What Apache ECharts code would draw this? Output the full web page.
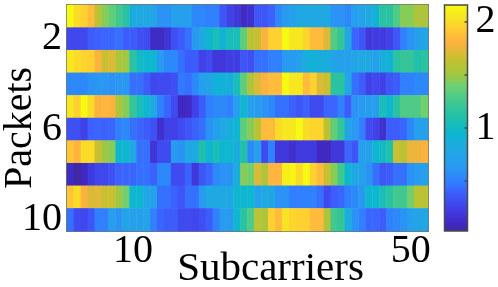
<!DOCTYPE html>
<html><head><meta charset="utf-8">
<style>html,body{margin:0;padding:0;background:#fff}#c{width:498px;height:287px}</style>
<script src="https://cdn.jsdelivr.net/npm/echarts@6/dist/echarts.min.js"></script>
</head><body><div id="c"></div>
<script>
const subcarriers = Array.from({length:52},(_,i)=>String(i+1));
const packets = Array.from({length:10},(_,i)=>String(i+1));
const xTickLabels = ['10','50'];
const yTickLabels = ['2','6','10'];
const colorTicks = [0.5,1,1.5,2];
const colorLabels = [1,2];
const vMin = 0.03, vMax = 2.16;
const row1=[2.15,2.0,1.95,1.85,1.6,1.45,1.35,1.25,1.15,.85,.8,.8,.75,.6,.6,.7,.7,.7,.55,.55,.5,.5,.35,.25,.2,.12,.15,.35,.35,.4,.55,.65,.7,.8,.8,.8,.8,.8,.6,.6,.55,.7,.75,.8,.9,1.15,1.15,1.3,1.45,1.45,1.55,1.55];
const row2=[.28,.28,.28,.38,.4,.42,.42,.45,.38,.38,.33,.3,.12,.12,.18,.32,.38,.45,.65,.8,.95,1.05,.9,1.05,1.05,1.35,1.6,1.65,1.8,1.95,1.95,2.15,2.05,2.05,1.97,1.85,1.85,1.7,1.3,1.2,.8,.42,.35,.2,.22,.22,.25,.35,.5,.6,.7,.75];
const row3=[2.05,2.0,1.97,1.95,1.8,1.65,1.7,1.55,1.5,1.15,1.0,.95,.95,.65,.55,.55,.45,.38,.38,.25,.3,.2,.2,.23,.23,.35,.32,.45,.45,.5,.5,.65,.65,.7,.85,.9,.85,.85,.75,.7,.7,.75,.8,.8,.7,.85,.9,1.15,1.2,1.2,1.1,1.15];
const row4=[.55,.55,.55,.6,.62,.62,.6,.62,.62,.45,.45,.38,.28,.3,.3,.32,.48,.45,.55,.7,.75,.9,.9,.85,1.05,1.35,1.55,1.7,1.8,1.85,1.85,2.15,2.05,2.05,1.85,1.95,1.7,1.65,1.15,1.15,.8,.45,.38,.25,.28,.25,.35,.38,.5,.5,.55,.55];
const row5=[2.05,1.95,2.15,2.0,1.8,1.82,1.8,1.55,1.45,1.2,1.05,.95,.8,.5,.42,.3,.1,.12,.25,.38,.5,.55,.55,.5,.7,.95,.7,.65,.6,.55,.45,.45,.4,.35,.4,.3,.3,.42,.42,.5,.38,.6,.65,.68,.68,1.05,.95,1.15,1.3,1.3,1.3,1.4];
const row6=[.32,.32,.25,.4,.42,.4,.42,.5,.55,.45,.42,.38,.33,.15,.25,.25,.3,.35,.4,.45,.6,.7,.8,.85,.95,1.35,1.45,1.6,1.85,1.85,2.0,2.05,2.05,2.15,2.0,1.97,1.97,1.6,1.35,1.2,.75,.65,.5,.3,.25,.15,.38,.38,.42,.55,.7,.7];
const row7=[1.9,1.82,2.0,2.0,1.65,1.5,1.45,.95,.95,.8,.45,.45,.18,.3,.3,.65,.6,.8,.8,1.1,.95,1.05,.95,.95,.85,1.1,.55,.7,.3,.5,.2,.2,.15,.22,.22,.22,.1,.1,.2,.2,.42,.35,.7,.7,.95,1.0,1.1,1.65,1.6,1.75,1.75,1.8];
const row8=[.12,.05,.1,.22,.28,.28,.33,.4,.42,.42,.45,.45,.4,.55,.55,.3,.3,.4,.2,.35,.42,.55,.6,.6,.85,1.45,1.4,1.7,1.55,1.82,1.82,2.1,2.12,2.0,2.15,1.95,1.85,1.65,1.45,1.25,.95,.8,.72,.6,.45,.35,.38,.45,.45,.6,.65,.7];
const row9=[1.9,2.0,1.8,1.7,1.72,1.65,1.65,1.5,1.4,.95,.95,.75,.72,.45,.45,.4,.35,.45,.45,.65,.8,.8,.8,.78,.95,.95,.95,.72,.8,.78,.6,.6,.5,.5,.5,.5,.45,.3,.38,.42,.5,.55,.65,.95,.95,1.05,1.15,1.25,1.25,1.4,1.6,1.6];
const row10=[.45,.3,.28,.35,.5,.5,.7,.6,.75,.72,.72,.75,.5,.42,.38,.38,.3,.3,.28,.32,.38,.5,.65,.65,.95,1.15,1.3,1.6,1.55,1.95,1.85,2.03,1.97,1.95,1.95,1.85,1.85,1.55,1.25,1.2,.85,.6,.5,.42,.42,.38,.5,.55,.6,.72,.75,.78];
const rows=[row1,row2,row3,row4,row5,row6,row7,row8,row9,row10];
const stopValues=[.03,.1,.25,.4,.5,.65,.8,.95,1.1,1.25,1.4,1.5,1.65,1.8,1.95,2.05,2.16];
const stopColors=['#3f2a9e','#4028c0','#4040e8','#3c60ff','#3080ff','#289cf0','#1fa8e2','#0cb6d0','#20c0aa','#40c890','#70d070','#a0c840','#c8c030','#ffb040','#ffd030','#f5e820','#f8fb10'];

const font='"Liberation Serif","Times New Roman",serif';
const data=[];
rows.forEach((r,y)=>r.forEach((v,x)=>data.push([x,y,v])));
const hex=c=>[1,3,5].map(k=>parseInt(c.substr(k,2),16));
function rampColors(n){
  const out=[];
  for(let i=0;i<n;i++){
    const v=vMin+(vMax-vMin)*i/(n-1);
    let k=0;while(k<stopValues.length-2&&v>stopValues[k+1])k++;
    const t=(v-stopValues[k])/(stopValues[k+1]-stopValues[k]);
    const a=hex(stopColors[k]),b=hex(stopColors[k+1]);
    out.push('rgb('+a.map((x,j)=>Math.round(x+(b[j]-x)*t)).join(',')+')');
  }
  return out;
}
const line={show:true,lineStyle:{color:'#4a4a4a',width:1.5}};
const tick={show:true,inside:true,length:3,alignWithLabel:true,interval:(i,n)=>(+n)%10===0,lineStyle:{color:'#4a4a4a',width:1.5}};
const ytick=Object.assign({},tick,{interval:(i,n)=>(+n)%2===0});
const chart=echarts.init(document.getElementById('c'),null,{renderer:'canvas'});
chart.setOption({
  animation:false,
  backgroundColor:'#fff',
  grid:[
    {left:67,right:70,top:5,bottom:56,outerBoundsMode:'none',containLabel:false},
    {left:444.5,width:23,top:5,bottom:56,outerBoundsMode:'none',containLabel:false,show:true,borderColor:'#4a4a4a',borderWidth:1.5,
     backgroundColor:new echarts.graphic.LinearGradient(0,1,0,0,stopValues.map((v,i)=>({offset:(v-vMin)/(vMax-vMin),color:stopColors[i]})))}
  ],
  xAxis:[
    {type:'category',gridIndex:0,data:subcarriers,position:'bottom',axisLine:line,axisTick:tick,splitLine:{show:false},
     axisLabel:{interval:(i,n)=>xTickLabels.includes(n),fontFamily:font,fontSize:40,color:'#000',margin:2,lineHeight:36,hideOverlap:false},
     name:'Subcarriers',nameLocation:'middle',nameGap:18,nameMoveOverlap:false,nameTextStyle:{fontFamily:font,fontSize:41,color:'#000',padding:[0,0,0,46]}},
    {type:'category',gridIndex:0,data:subcarriers,position:'top',axisLine:line,axisTick:tick,axisLabel:{show:false}},
    {type:'category',gridIndex:1,data:['c'],show:false}
  ],
  yAxis:[
    {type:'category',gridIndex:0,data:packets,inverse:true,position:'left',axisLine:line,axisTick:ytick,splitLine:{show:false},
     axisLabel:{interval:(i,n)=>yTickLabels.includes(n),fontFamily:font,fontSize:40,color:'#000',margin:5,hideOverlap:false},
     name:'Packets',nameLocation:'middle',nameGap:27,nameMoveOverlap:false,nameTextStyle:{fontFamily:font,fontSize:40,color:'#000',padding:[0,0,0,-20]}},
    {type:'category',gridIndex:0,data:packets,inverse:true,position:'right',axisLine:line,axisTick:ytick,axisLabel:{show:false}},
    {type:'value',gridIndex:1,min:vMin,max:vMax,position:'right',axisLine:{show:false},splitLine:{show:false},
     axisTick:{show:true,inside:true,length:3,customValues:colorTicks,lineStyle:{color:'#4a4a4a',width:1.5}},
     axisLabel:{customValues:colorLabels,fontFamily:font,fontSize:40,color:'#000',margin:8,padding:[0,0,4,0],formatter:v=>String(v),showMinLabel:true,showMaxLabel:true}}
  ],
  visualMap:{show:false,type:'continuous',seriesIndex:0,min:vMin,max:vMax,dimension:2,inRange:{color:rampColors(64)}},
  series:[{type:'heatmap',xAxisIndex:0,yAxisIndex:0,data:data,progressive:0,itemStyle:{borderWidth:0}}]
});
</script></body></html>
